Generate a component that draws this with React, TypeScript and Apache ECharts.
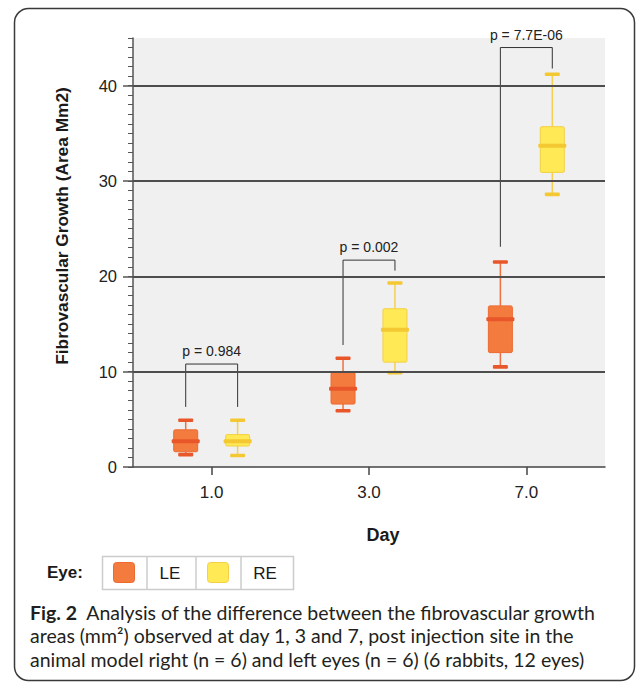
import React, { useEffect, useRef } from 'react';
import * as echarts from 'echarts';

const days = ['1.0', '3.0', '7.0'];
// each row: [min, Q1, median, Q3, max]
const leValues = [
  [1.3, 1.6, 2.7, 3.9, 4.9],
  [5.9, 6.6, 8.2, 9.9, 11.4],
  [10.5, 12.0, 15.5, 16.9, 21.5],
];
const reValues = [
  [1.2, 2.2, 2.7, 3.4, 4.9],
  [9.9, 11.0, 14.4, 16.6, 19.3],
  [28.6, 30.9, 33.7, 35.7, 41.2],
];
const pLabels = ['p = 0.984', 'p = 0.002', 'p = 7.7E-06'];
const bracketTop = [10.8, 21.7, 44.0];
const bracketLeftEnd = [6.3, 12.8, 23.1];
const bracketRightEnd = [6.3, 20.6, 41.8];
const yTicks = [0, 10, 20, 30, 40];
const gridValues = [10, 20, 30, 40];
const legendNames = ['LE', 'RE'];
const yAxisName = 'Fibrovascular Growth (Area Mm2)';
const xAxisName = 'Day';
const legendTitle = 'Eye:';
const captionLines = [
  '{b|Fig. 2}  Analysis of the difference between the fibrovascular growth',
  'areas (mm²) observed at day 1, 3 and 7, post injection site in the',
  'animal model right (n = 6) and left eyes (n = 6) (6 rabbits, 12 eyes)',
];

const FONT = '"Liberation Sans", Arial, Helvetica, sans-serif';
const CAP_FONT = 'Lato, "Open Sans", sans-serif';
const OFF = 0.165;

const LE_COL = { fill: '#F47B3E', border: '#EC6A30', dark: '#E8562A', whisker: '#EF7040' };
const RE_COL = { fill: '#FFE955', border: '#F3D045', dark: '#F3C833', whisker: '#F5D050' };

function boxRenderer(sign: number, col: any) {
  return (params: any, api: any) => {
    const cat = api.value(0);
    const band = api.size([1, 0])[0];
    const cx = api.coord([cat, 0])[0] + sign * band * OFF;
    const y = (i: number) => api.coord([cat, api.value(i)])[1];
    const yMin = y(1), yQ1 = y(2), yMed = y(3), yQ3 = y(4), yMax = y(5);
    const boxW = 24, medW = 28, capW = 15, capH = 3.6, medH = 4;
    return {
      type: 'group',
      children: [
        { type: 'line', shape: { x1: cx, y1: yMax, x2: cx, y2: yQ3 }, style: { stroke: col.whisker, lineWidth: 1.5 } },
        { type: 'line', shape: { x1: cx, y1: yQ1, x2: cx, y2: yMin }, style: { stroke: col.whisker, lineWidth: 1.5 } },
        { type: 'rect', shape: { x: cx - boxW / 2, y: yQ3, width: boxW, height: yQ1 - yQ3, r: 1.5 }, style: { fill: col.fill, stroke: col.border, lineWidth: 1 } },
        { type: 'rect', shape: { x: cx - medW / 2, y: yMed - medH / 2, width: medW, height: medH, r: 1 }, style: { fill: col.dark } },
        { type: 'rect', shape: { x: cx - capW / 2, y: yMax - capH / 2, width: capW, height: capH, r: 1 }, style: { fill: col.dark } },
        { type: 'rect', shape: { x: cx - capW / 2, y: yMin - capH / 2, width: capW, height: capH, r: 1 }, style: { fill: col.dark } },
      ],
    };
  };
}

function bracketRenderer(params: any, api: any) {
  const cat = api.value(0);
  const band = api.size([1, 0])[0];
  const c = api.coord([cat, 0])[0];
  const xl = c - band * OFF;
  const xr = c + band * OFF;
  const yt = api.coord([cat, api.value(1)])[1];
  const yl = api.coord([cat, api.value(2)])[1];
  const yr = api.coord([cat, api.value(3)])[1];
  return {
    type: 'group',
    children: [
      { type: 'polyline', shape: { points: [[xl, yl], [xl, yt], [xr, yt], [xr, yr]] }, style: { stroke: '#333', lineWidth: 1, fill: 'none' } },
      { type: 'text', x: (xl + xr) / 2, y: yt - 13, style: { text: pLabels[params.dataIndex], fontSize: 14, fontFamily: FONT, fill: '#222', align: 'center', verticalAlign: 'middle' } },
    ],
  };
}

export default function App() {
  const ref = useRef<HTMLDivElement>(null);
  useEffect(() => {
    if (!ref.current) return;
    const chart = echarts.init(ref.current, null, { renderer: 'svg' });
    const option: any = {
      animation: false,
      backgroundColor: '#ffffff',
      grid: { left: 133, right: 31, top: 38, bottom: 216, show: true, backgroundColor: '#f0f0f0', borderWidth: 0 },
      xAxis: {
        type: 'category',
        data: days,
        boundaryGap: true,
        axisLine: { show: true, lineStyle: { color: '#444', width: 1.5 } },
        axisTick: { show: true, alignWithLabel: true, length: 8, lineStyle: { color: '#444', width: 1.5 } },
        axisLabel: { fontSize: 17, color: '#222', fontFamily: FONT, margin: 17 },
        splitLine: { show: false },
      },
      yAxis: [
        {
          type: 'value', min: 0, max: 45, interval: 10,
          axisLine: { show: true, lineStyle: { color: '#555', width: 1.5 } },
          axisTick: { show: true, length: 10, customValues: yTicks, lineStyle: { color: '#555', width: 1.5 } },
          axisLabel: { customValues: yTicks, margin: 16, fontSize: 16.5, color: '#222', fontFamily: FONT },
          splitLine: { show: false },
        },
        {
          type: 'value', min: 0, max: 45, interval: 1, position: 'left',
          axisLine: { show: false },
          axisTick: { show: true, length: 5, lineStyle: { color: '#555', width: 1 } },
          axisLabel: { show: false },
          splitLine: { show: false },
        },
      ],
      series: [
        {
          type: 'line', data: [], z: 1,
          markLine: {
            silent: true, symbol: ['none', 'none'], label: { show: false },
            lineStyle: { color: '#4d4d4d', width: 2, type: 'solid' },
            data: gridValues.map((v) => ({ yAxis: v })),
          },
        },
        {
          type: 'custom', name: legendNames[0], z: 3,
          renderItem: boxRenderer(-1, LE_COL),
          encode: { x: 0, y: [1, 2, 3, 4, 5] },
          data: leValues.map((v, i) => [i, ...v]),
        },
        {
          type: 'custom', name: legendNames[1], z: 3,
          renderItem: boxRenderer(1, RE_COL),
          encode: { x: 0, y: [1, 2, 3, 4, 5] },
          data: reValues.map((v, i) => [i, ...v]),
        },
        {
          type: 'custom', name: 'p', z: 4, clip: false,
          renderItem: bracketRenderer,
          encode: { x: 0, y: [1, 2, 3] },
          data: days.map((d, i) => [i, bracketTop[i], bracketLeftEnd[i], bracketRightEnd[i]]),
        },
      ],
      graphic: [
        { type: 'rect', shape: { x: 14.5, y: 8.5, width: 620, height: 672, r: 14 }, style: { fill: 'none', stroke: '#3a3a3a', lineWidth: 1.5 }, silent: true },
        { type: 'text', x: 62, y: 226, rotation: Math.PI / 2, style: { text: yAxisName, fontSize: 17.3, fontWeight: 'bold', fontFamily: FONT, fill: '#1a1a1a', align: 'center', verticalAlign: 'middle' } },
        { type: 'text', x: 383, y: 535, style: { text: xAxisName, fontSize: 18, fontWeight: 'bold', fontFamily: FONT, fill: '#1a1a1a', align: 'center', verticalAlign: 'middle' } },
        { type: 'text', x: 47, y: 572, style: { text: legendTitle, fontSize: 17, fontWeight: 'bold', fontFamily: FONT, fill: '#1a1a1a', align: 'left', verticalAlign: 'middle' } },
        { type: 'rect', shape: { x: 102.5, y: 556.5, width: 191, height: 33 }, style: { fill: '#fff', stroke: '#cccccc', lineWidth: 1.5 } },
        { type: 'line', shape: { x1: 147, y1: 556.5, x2: 147, y2: 589.5 }, style: { stroke: '#cccccc', lineWidth: 1.5 } },
        { type: 'line', shape: { x1: 196, y1: 556.5, x2: 196, y2: 589.5 }, style: { stroke: '#cccccc', lineWidth: 1.5 } },
        { type: 'line', shape: { x1: 241, y1: 556.5, x2: 241, y2: 589.5 }, style: { stroke: '#cccccc', lineWidth: 1.5 } },
        { type: 'rect', shape: { x: 113.5, y: 562.5, width: 21, height: 20, r: 3 }, style: { fill: LE_COL.fill, stroke: LE_COL.border, lineWidth: 1 } },
        { type: 'rect', shape: { x: 207.5, y: 562.5, width: 21, height: 20, r: 3 }, style: { fill: RE_COL.fill, stroke: RE_COL.border, lineWidth: 1 } },
        { type: 'text', x: 170, y: 573, style: { text: legendNames[0], fontSize: 17, fontFamily: FONT, fill: '#1a1a1a', align: 'center', verticalAlign: 'middle' } },
        { type: 'text', x: 265, y: 573, style: { text: legendNames[1], fontSize: 17, fontFamily: FONT, fill: '#1a1a1a', align: 'center', verticalAlign: 'middle' } },
        ...captionLines.map((t, i) => ({
          type: 'text', x: 30, y: 612 + i * 23.5,
          style: { text: t, fontSize: 19.5, fontFamily: CAP_FONT, fill: '#231f20', align: 'left', verticalAlign: 'middle', rich: { b: { fontSize: 19.5, fontWeight: 'bold', fontFamily: CAP_FONT, fill: '#231f20' } } },
        })),
      ],
    };
    chart.setOption(option);
    return () => chart.dispose();
  }, []);
  return <div ref={ref} style={{ position: 'absolute', left: 0, top: 0, width: 636, height: 683 }} />;
}
